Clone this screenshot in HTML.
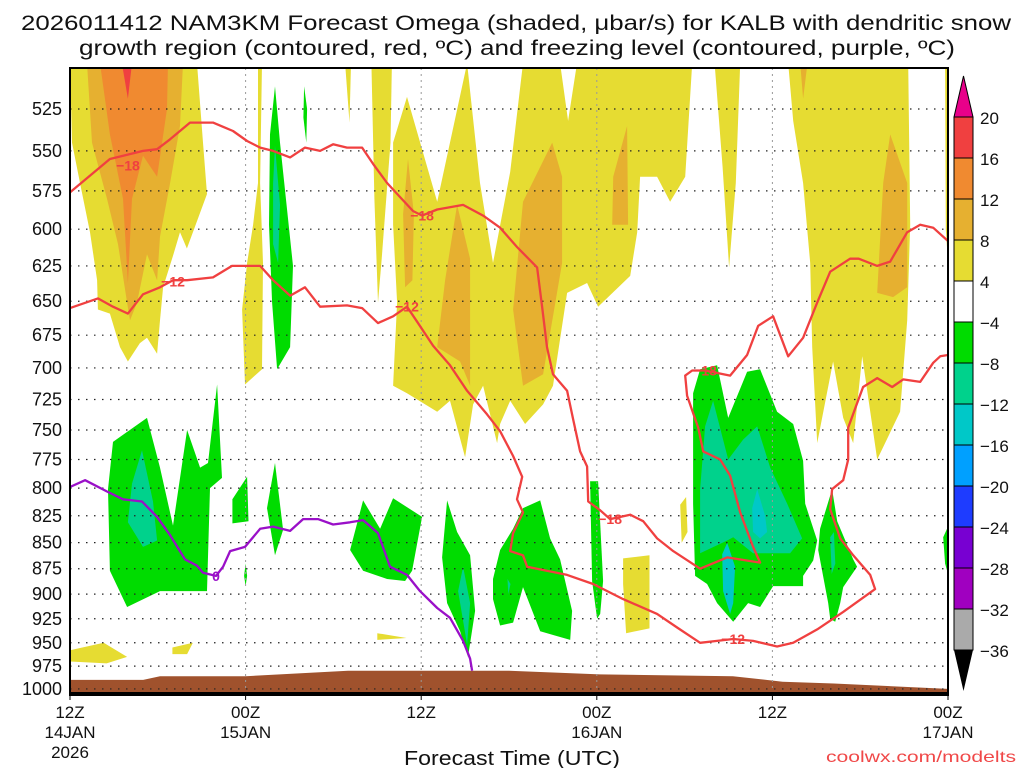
<!DOCTYPE html>
<html><head><meta charset="utf-8"><title>NAM3KM Omega KALB</title>
<style>
html,body{margin:0;padding:0;background:#fff;}
svg{display:block;font-family:"Liberation Sans",sans-serif;}
</style></head>
<body>
<svg id="chart" width="1024" height="768" viewBox="0 0 1024 768" xmlns="http://www.w3.org/2000/svg">
<defs><clipPath id="plotclip"><rect x="70" y="68" width="878" height="627"/></clipPath></defs>
<rect x="0" y="0" width="1024" height="768" fill="#fff"/>
<text x="516" y="30" font-size="21" text-anchor="middle" textLength="990" lengthAdjust="spacingAndGlyphs" fill="#111">2026011412 NAM3KM Forecast Omega (shaded, μbar/s) for KALB with dendritic snow</text>
<text x="517" y="55" font-size="21" text-anchor="middle" textLength="876" lengthAdjust="spacingAndGlyphs" fill="#111">growth region (contoured, red, ºC) and freezing level (contoured, purple, ºC)</text>
<g id="shading" clip-path="url(#plotclip)"></g>
<g id="terrain" clip-path="url(#plotclip)"></g>
<g id="grid"></g>
<g id="contours" clip-path="url(#plotclip)"></g>
<g id="axes"></g>
<g id="colorbar"></g>
<text x="512" y="765" font-size="20" text-anchor="middle" textLength="216" lengthAdjust="spacingAndGlyphs" fill="#111">Forecast Time (UTC)</text>
<text x="1016" y="762" font-size="16" text-anchor="end" textLength="190" lengthAdjust="spacingAndGlyphs" fill="#f04848">coolwx.com/modelts</text>
</svg>
<script>
// ---- axis data ----
const pressureTicks = [525,550,575,600,625,650,675,700,725,750,775,800,825,850,875,900,925,950,975,1000];
const timeTickHours = [0,12,24,36,48,60];
const timeTickLine1 = ["12Z","00Z","12Z","00Z","12Z","00Z"];
const timeTickLine2 = ["14JAN","15JAN","","16JAN","","17JAN"];
const timeTickLine3 = ["2026","","","","",""];
const cbLevels = [20,16,12,8,4,-4,-8,-12,-16,-20,-24,-28,-32,-36];
const cbColors = ["#f04040","#f08a30","#e6b030","#e6dc32","#ffffff","#00dc00","#00d28c","#00c8c8","#00a0ff","#1e3cff","#7800d2","#a000c0","#aaaaaa"];

// ---- omega regions: [hour, pressure] ----
const yellowLeft = [[0,499],[0.14,545],[0.68,570],[1.37,602],[1.85,635],[1.91,656],[2.73,659],[3.42,684],[3.96,695],[4.78,681],[5.26,677],[5.95,689],[6.15,664],[6.36,640],[7.04,618],[7.52,602],[7.99,613],[8.4,602],[9.36,577],[9.09,545],[8.68,499]];
const goldLeft = [[1.16,499],[1.5,545],[2.53,580],[3.28,610],[3.9,651],[4.1,664],[4.58,651],[5.26,617],[5.95,635],[6.15,605],[6.84,570],[7.52,535],[7.72,499]];
const orangeLeft = [[2.05,499],[2.73,540],[3.62,580],[3.96,637],[4.24,580],[4.99,553],[5.95,566],[6.63,525],[6.7,499]];
const redLeft = [[3.55,499],[3.96,519],[4.24,499]];
const yellowThin1 = [[12.85,499],[13.12,499],[12.99,570],[13.19,623],[13.12,701],[11.96,713],[11.76,656],[12.1,623],[12.51,597],[12.85,570]];
const yellowThin2 = [[18.8,499],[19.2,499],[19.1,533]];
const yellowSpike1 = [[20.6,499],[22.0,499],[21.9,545],[21.3,620],[21.05,651],[20.8,580]];
const yellowMid = [[23.03,518],[25.09,582],[27.14,499],[28.02,570],[28.91,623],[30.08,563],[30.96,499],[33.49,499],[34.04,532],[34.65,499],[42.52,499],[42.04,566],[41.01,582],[40.12,566],[38.96,566],[38.76,602],[38.28,632],[36.09,654],[35.34,637],[33.97,644],[33.01,714],[32.33,729],[31.1,745],[30.08,726],[29.39,745],[29.19,761],[28.23,714],[27.55,729],[27.0,773],[25.97,726],[25.09,735],[23.03,720],[22.08,714],[22.35,651],[22.08,597],[22.08,545]];
const yellowSpike2 = [[44.05,499],[45.8,499],[45.5,570],[45.04,626],[44.6,560]];
const yellowRight = [[49.08,499],[49.42,532],[50.1,570],[50.58,623],[50.72,684],[51.06,761],[52.15,695],[52.84,740],[53.52,761],[54.14,691],[55.16,775],[56.73,735],[57.21,664],[57.42,597],[57.28,499]];
const yellowEdge = [[59.8,499],[60,499],[60,623],[59.85,600]];
const yellowSmall1 = [[41.7,815],[42.1,808],[42.2,840],[41.8,850]];
const yellowSmall2 = [[37.8,865],[39.6,862],[39.6,935],[38.0,940],[37.8,890]];
const yellowSmall3 = [[0,958],[2.3,950],[3.9,965],[2.5,972],[0,970]];
const yellowSmall4 = [[7.0,955],[8.4,950],[8.0,962],[7.0,962]];
const yellowSmall5 = [[21.0,940],[23.0,945],[21.0,947]];
const goldMid1 = [[23.1,555],[23.5,590],[23.4,635],[22.9,640],[22.76,590]];
const goldMid2 = [[26.45,584],[27.34,620],[27.34,714],[26.66,695],[25.09,684],[25.63,635]];
const goldMid3 = [[32.95,545],[33.63,566],[33.63,623],[32.33,705],[30.96,714],[30.28,656],[30.96,582]];
const goldMid4 = [[38.07,535],[38.14,597],[37.05,597],[37.12,566]];
const goldRight = [[56.05,540],[57.21,570],[57.21,640],[56.25,647],[55.16,644],[55.57,570]];
const goldTop = [[49.9,499],[50.4,499],[50.1,519]];
const greenThin = [[14.01,512],[14.35,545],[15.24,625],[15.04,684],[14.15,701],[13.81,651],[13.6,597],[13.67,540]];
const tealThin = [[14.01,547],[14.35,584],[14.22,623],[13.88,610],[13.88,570]];
const greenTiny1 = [[16.0,512],[16.2,525],[16.15,545],[15.95,530]];
const greenLeft = [[2.94,760],[5.26,740],[6.15,782],[7.04,834],[8.0,750],[8.89,782],[9.43,778],[10.05,713],[10.39,791],[9.57,800],[9.36,897],[8.68,897],[6.15,897],[3.9,913],[2.73,877],[2.6,801]];
const tealLeft = [[4.92,767],[5.67,812],[5.95,848],[4.99,854],[3.96,831],[4.24,796]];
const greenSmall1 = [[11.1,810],[12.1,790],[12.2,830],[11.1,832]];
const greenSmall2 = [[13.46,818],[14.01,778],[14.56,838],[14.01,862]];
const greenSmall3 = [[11.9,882],[12.0,870],[12.1,882],[12.0,892]];
const greenMid1 = [[19.14,857],[20.03,811],[21.19,837],[22.08,809],[24.06,826],[23.38,877],[22.9,887],[21.67,885],[20.03,877]];
const greenMid2 = [[25.77,811],[26.45,840],[27.34,862],[27.68,917],[27.2,965],[26.66,938],[25.77,909],[25.43,864]];
const tealMid2 = [[26.86,873],[27.34,909],[27.14,952],[26.52,897]];
const greenMid3 = [[28.91,885],[29.39,857],[30.28,837],[30.96,818],[32.13,811],[32.81,846],[33.49,866],[34.31,917],[34.18,947],[32.13,938],[30.96,893],[30.28,929],[29.39,932],[28.91,905]];
const tealMid3 = [[29.9,885],[30.1,890],[29.95,900]];
const greenThin2 = [[35.54,794],[36.09,794],[36.43,887],[36.23,920],[36.02,925],[35.68,887]];
const greenBig = [[42.58,720],[43.06,701],[44.22,698],[44.98,740],[46.27,703],[47.16,701],[48.32,735],[49.42,745],[50.1,776],[50.24,814],[51.06,848],[50.79,867],[50.1,882],[50.1,892],[48.05,892],[47.16,913],[46.34,909],[45.32,928],[44.22,909],[43.54,890],[42.72,882],[42.58,814]];
const tealBig = [[43.95,726],[44.98,775],[46.0,758],[46.96,747],[47.85,782],[49.01,814],[50.03,846],[49.21,860],[48.05,860],[46.68,860],[45.32,845],[44.91,848],[43.06,860],[43.06,801],[43.4,747]];
const cyanBig1 = [[46.96,801],[47.5,825],[47.64,840],[47.16,846],[46.68,840],[46.62,818]];
const cyanBig2 = [[44.91,850],[45.45,873],[45.32,909],[45.11,920],[44.63,897],[44.57,861]];
const greenRight = [[52.08,801],[52.43,830],[53.52,866],[53.79,873],[52.84,893],[52.63,909],[52.29,928],[51.95,925],[51.81,909],[51.13,857],[51.26,837]];
const tealRight = [[51.95,845],[52.2,840],[52.3,870],[52.05,880]];
const greenEdge = [[59.67,845],[60,835],[60,880],[59.8,870]];

// ---- terrain surface pressure ----
const terrainHours = [0,5,6.15,12,19,30,36.2,45.3,48.7,52.2,60];
const terrainPressure = [990,990,986,986,980,980,984,986,992,994,1000];

// ---- contours: [hour, pressure] ----
const minus18 = [[0,576],[2.73,555],[4.99,550],[5.95,549],[6.84,543],[8.2,533],[9.77,533],[11.14,538],[12.1,544],[12.99,548],[13.88,550],[15.04,554],[16.06,548],[17.09,550],[17.98,546],[18.93,548],[19.96,548],[20.71,558],[21.67,570],[22.56,579],[23.44,588],[24.06,591],[25.09,587],[26.86,584],[28.23,591],[29.39,599],[30.55,612],[31.92,626],[32.26,654],[32.6,684],[33.01,705],[33.97,718],[34.38,741],[34.86,768],[35.34,781],[35.41,812],[36.23,820],[36.91,828],[38.28,824],[39.17,830],[40.12,846],[41.22,858],[43.06,875],[44.91,864],[47.16,869],[46.68,854],[45.8,822],[45.11,789],[44.43,775],[43.27,768],[42.93,748],[42.17,722],[42.04,706],[42.52,702],[43.4,702],[45.11,706],[46.27,690],[47.03,668],[48.05,661],[49.08,691],[50.1,677],[51.06,651],[51.95,629],[53.31,620],[53.9,620],[55.16,625],[56.05,622],[57.21,602],[58.1,597],[58.99,599],[60.01,608]];
const minus12 = [[0,655],[1.91,648],[2.94,654],[3.96,659],[4.99,645],[6.15,640],[7.04,635],[8.0,635],[9.77,633],[11.07,625],[12.99,625],[13.88,635],[15.04,646],[16.06,640],[17.09,654],[18.93,653],[19.96,655],[21.05,666],[22.08,661],[23.03,654],[23.72,665],[24.81,683],[25.97,698],[27.14,718],[28.5,737],[29.39,751],[30.28,772],[30.9,790],[30.55,810],[30.96,822],[30.28,841],[30.08,858],[30.96,862],[31.24,873],[33.97,881],[35.75,890],[37.8,905],[40.12,920],[41.49,934],[43.06,950],[44.22,948],[45.32,946],[46.68,948],[48.32,954],[49.42,950],[51.06,936],[52.84,918],[55.02,895],[54.68,881],[53.52,862],[52.63,846],[51.95,819],[52.08,801],[52.84,793],[53.18,775],[53.18,748],[53.79,728],[54.2,715],[55.16,708],[56.19,715],[56.94,709],[58.1,711],[58.99,696],[59.47,691],[60.01,690]];
const freezing0 = [[0,799],[1.03,793],[2.53,803],[3.62,810],[4.92,812],[5.95,826],[6.84,843],[7.86,866],[8.68,872],[9.09,879],[9.98,882],[10.46,873],[10.94,858],[11.96,854],[12.99,837],[13.88,835],[15.04,839],[15.93,828],[16.95,828],[17.98,833],[19.14,831],[20.03,829],[21.05,841],[21.87,873],[23.03,881],[23.92,897],[25.09,914],[25.97,924],[26.86,948],[27.34,967],[27.48,980]];
const labels18 = [[3.96,559],[24.06,591],[36.91,828],[43.4,702]];
const labels12 = [[7.04,636],[23.03,654],[45.32,946]];
const labels0 = [[9.98,882]];

// ---- axis functions ----
const X0=70, X1=948, Y0=68, Y1=695, H0=0, H1=60;
function xs(h){ return X0 + (h-H0)/(H1-H0)*(X1-X0); }
function ys(p){ return 109 + 900*Math.log(p/525); }
const NS="http://www.w3.org/2000/svg";
function mk(tag, attrs, parent){ const e=document.createElementNS(NS,tag); for(const k in attrs) e.setAttribute(k,attrs[k]); parent.appendChild(e); return e; }
function pts(arr){ return arr.map(d=>xs(d[0]).toFixed(1)+","+ys(d[1]).toFixed(1)).join(" "); }

const shading=document.getElementById('shading');
const regions = [
 ["yellow-left",yellowLeft,"#e6dc32"],["gold-left",goldLeft,"#e6b030"],["orange-left",orangeLeft,"#f08a30"],["red-left",redLeft,"#f04040"],
 ["yellow-thin-1",yellowThin1,"#e6dc32"],["yellow-thin-2",yellowThin2,"#e6dc32"],["yellow-spike-1",yellowSpike1,"#e6dc32"],
 ["yellow-mid",yellowMid,"#e6dc32"],["yellow-spike-2",yellowSpike2,"#e6dc32"],["yellow-right",yellowRight,"#e6dc32"],["yellow-edge",yellowEdge,"#e6dc32"],
 ["yellow-small-1",yellowSmall1,"#e6dc32"],["yellow-small-2",yellowSmall2,"#e6dc32"],["yellow-small-3",yellowSmall3,"#e6dc32"],["yellow-small-4",yellowSmall4,"#e6dc32"],["yellow-small-5",yellowSmall5,"#e6dc32"],
 ["gold-mid-1",goldMid1,"#e6b030"],["gold-mid-2",goldMid2,"#e6b030"],["gold-mid-3",goldMid3,"#e6b030"],["gold-mid-4",goldMid4,"#e6b030"],["gold-right",goldRight,"#e6b030"],["gold-top",goldTop,"#e6b030"],
 ["green-thin",greenThin,"#00dc00"],["teal-thin",tealThin,"#00d28c"],["green-tiny-1",greenTiny1,"#00dc00"],
 ["green-left",greenLeft,"#00dc00"],["teal-left",tealLeft,"#00d28c"],["green-small-1",greenSmall1,"#00dc00"],["green-small-2",greenSmall2,"#00dc00"],["green-small-3",greenSmall3,"#00dc00"],
 ["green-mid-1",greenMid1,"#00dc00"],["green-mid-2",greenMid2,"#00dc00"],["teal-mid-2",tealMid2,"#00d28c"],["green-mid-3",greenMid3,"#00dc00"],["teal-mid-3",tealMid3,"#00d28c"],["green-thin-2",greenThin2,"#00dc00"],
 ["green-big",greenBig,"#00dc00"],["teal-big",tealBig,"#00d28c"],["cyan-big-1",cyanBig1,"#00c8c8"],["cyan-big-2",cyanBig2,"#00c8c8"],
 ["green-right",greenRight,"#00dc00"],["teal-right",tealRight,"#00d28c"],["green-edge",greenEdge,"#00dc00"]
];
regions.forEach(r=>{
  const el=mk('polygon',{points:pts(r[1]),fill:r[2]},shading);
  
  
});

// terrain
const terr=document.getElementById('terrain');
let tp = terrainHours.map((h,i)=>xs(h).toFixed(1)+","+ys(terrainPressure[i]).toFixed(1)).join(" ");
tp += " "+xs(60)+","+Y1+" "+xs(0)+","+Y1;
const tEl=mk('polygon',{points:tp,fill:"#a0522d"},terr);



// grid
const grid=document.getElementById('grid');
pressureTicks.forEach(p=>{
  const l=mk('line',{x1:X0,x2:X1,y1:ys(p),y2:ys(p),stroke:"#222","stroke-width":1.2,"stroke-dasharray":"1.5,6.5"},grid);
  
  
});
timeTickHours.slice(1,5).forEach(h=>{
  const l=mk('line',{x1:xs(h),x2:xs(h),y1:Y0,y2:Y1,stroke:"#999","stroke-width":1,"stroke-dasharray":"2,4"},grid);
  
  
});

// contours
const cont=document.getElementById('contours');
function line(arr,color,name){
  const el=mk('polyline',{points:pts(arr),fill:"none",stroke:color,"stroke-width":2.3,"stroke-linejoin":"round"},cont);
  
  
}
line(minus18,"#f04040","contour-minus-18");
line(minus12,"#f04040","contour-minus-12");
line(freezing0,"#9a10c8","freezing-level-contour");
function labels(arr,txt,color,name){
  arr.forEach(d=>{
    const t=mk('text',{x:xs(d[0]),y:ys(d[1])+5,"font-size":14,"font-weight":"bold","text-anchor":"middle",fill:color},cont);
    t.textContent=txt;
    
    
  });
}
labels(labels18,"−18","#f04040","contour-label-minus-18");
labels(labels12,"−12","#f04040","contour-label-minus-12");
labels(labels0,"0","#9a10c8","contour-label-0");

// axes
const axes=document.getElementById('axes');
const frame=mk('rect',{x:X0,y:Y0,width:X1-X0,height:Y1-Y0,fill:"none",stroke:"#000","stroke-width":2},axes);


const bottomBar=mk('rect',{x:X0,y:Y1-3,width:X1-X0,height:4,fill:"#000"},axes);


pressureTicks.forEach(p=>{
  const t=mk('text',{x:62,y:ys(p)+6,"font-size":18,"text-anchor":"end",fill:"#111"},axes);
  t.textContent=String(p);
  
  
});
timeTickHours.forEach((h,i)=>{
  const tk=mk('line',{x1:xs(h),x2:xs(h),y1:Y1,y2:Y1+5,stroke:"#000","stroke-width":1},axes);
  
  
  [timeTickLine1[i],timeTickLine2[i],timeTickLine3[i]].forEach((s,j)=>{
    if(!s) return;
    const t=mk('text',{x:xs(h),y:718+j*20,"font-size":17,"text-anchor":"middle",fill:"#111"},axes);
    t.textContent=s;
    
    
  });
});

// colorbar
const cb=document.getElementById('colorbar');
const CBX=954, CBW=19, CBTOP=117, CBSTEP=41;
const topTri=mk('polygon',{points:`${CBX},${CBTOP} ${CBX+CBW},${CBTOP} ${CBX+CBW/2},76`,fill:"#e8008a",stroke:"#000","stroke-width":1},cb);


cbColors.forEach((c,i)=>{
  const r=mk('rect',{x:CBX,y:CBTOP+i*CBSTEP,width:CBW,height:CBSTEP,fill:c,stroke:"#000","stroke-width":1},cb);
  
  
});
const botY=CBTOP+cbColors.length*CBSTEP;
const botTri=mk('polygon',{points:`${CBX},${botY} ${CBX+CBW},${botY} ${CBX+CBW/2},691`,fill:"#000"},cb);


cbLevels.forEach((v,i)=>{
  const t=mk('text',{x:980,y:CBTOP+i*CBSTEP+7,"font-size":17,fill:"#111"},cb);
  t.textContent=(v<0?"−":"")+Math.abs(v);
  
  
});
</script>
</body></html>
